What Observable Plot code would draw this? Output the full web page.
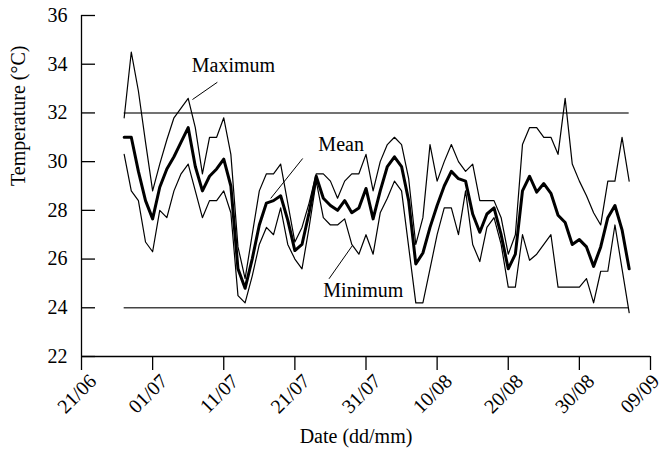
<!DOCTYPE html>
<html>
<head>
<meta charset="utf-8">
<script src="https://cdn.jsdelivr.net/npm/d3@7"></script>
<script src="https://cdn.jsdelivr.net/npm/@observablehq/plot@0.6"></script>
<style>
  html, body { margin: 0; padding: 0; background: #fff; }
  #chart { width: 664px; height: 457px; }
  #chart svg, #chart svg text { font-family: "Liberation Serif", "Times New Roman", serif !important; }
</style>
</head>
<body>
<div id="chart"></div>
<script>
// Daily series, 27/06 to 06/09
const firstDay = "2000-06-27";
const lastDay = "2000-09-06";
const maxTemp = [
  31.8, 34.5, 32.9, 30.8, 28.8, 29.9, 30.9, 31.8, 32.2, 32.6,
  31.4, 29.5, 31.0, 31.0, 31.8, 30.3, 26.5, 25.2, 27.0, 28.8,
  29.5, 29.5, 29.9, 28.3, 26.7, 27.3, 28.3, 29.5, 29.5, 29.2,
  28.5, 29.2, 29.5, 29.5, 30.3, 28.8, 30.0, 30.7, 31.0, 30.7,
  29.3, 26.6, 27.7, 30.7, 29.2, 30.0, 30.7, 30.0, 29.6, 29.9,
  28.4, 28.4, 28.4, 27.7, 26.2, 27.0, 30.7, 31.4, 31.4, 31.0,
  31.0, 30.3, 32.6, 29.9, 29.2, 28.6, 27.9, 27.4, 29.2, 29.2,
  31.0, 29.2
];
const meanTemp = [
  31.0, 31.0, 29.6, 28.4, 27.65, 28.95, 29.7, 30.2, 30.8, 31.4,
  29.8, 28.8, 29.4, 29.7, 30.1, 29.0, 25.6, 24.8, 26.0, 27.4,
  28.3, 28.4, 28.6, 27.6, 26.35, 26.6, 27.9, 29.4, 28.5, 28.2,
  28.0, 28.4, 27.9, 28.1, 28.9, 27.65, 28.8, 29.8, 30.2, 29.8,
  28.4, 25.8, 26.25, 27.3, 28.2, 29.0, 29.6, 29.3, 29.2, 27.85,
  27.1, 27.85, 28.1, 27.0, 25.6, 26.2, 28.8, 29.4, 28.75, 29.1,
  28.7, 27.8, 27.5, 26.6, 26.8, 26.5, 25.7, 26.5, 27.7, 28.2,
  27.2, 25.6
];
const minTemp = [
  30.3, 28.8, 28.4, 26.7, 26.3, 28.0, 27.7, 28.8, 29.5, 29.9,
  28.8, 27.7, 28.4, 28.4, 28.8, 27.9, 24.5, 24.2, 25.3, 26.6,
  27.3, 27.0, 28.1, 26.6, 26.0, 25.6, 27.3, 29.2, 27.7, 27.4,
  27.4, 27.65, 26.6, 26.2, 27.0, 26.2, 27.9, 28.5, 29.2, 28.8,
  26.5, 24.2, 24.2, 25.6, 27.0, 28.1, 28.1, 27.0, 28.8, 26.6,
  25.9, 27.3, 27.7, 26.6, 24.85, 24.85, 27.0, 25.95, 26.2, 26.6,
  27.0, 24.85, 24.85, 24.85, 24.85, 25.2, 24.2, 25.5, 25.5, 27.4,
  25.6, 23.8
];
const thresholds = [32, 24];
const xTickLabels = ["21/06","01/07","11/07","21/07","31/07","10/08","20/08","30/08","09/09"];
const yTicks = [22, 24, 26, 28, 30, 32, 34, 36];
const xTitle = "Date (dd/mm)";
const yTitle = "Temperature (°C)";
// annotation: label anchor (day offset from 21/06, temp) and leader line
const labelNames = ["Maximum", "Mean", "Minimum"];
const labelDay = [15.5, 33.3, 34.0];
const labelTemp = [33.95, 30.70, 24.69];
const leaderDay1 = [19.1, 31.1, 38.1];
const leaderTemp1 = [33.26, 30.13, 26.56];
const leaderDay2 = [15.6, 26.6, 34.8];
const leaderTemp2 = [32.55, 28.49, 25.19];

const parse = d3.utcParse("%Y-%m-%d");
const origin = parse("2000-06-21");
const dayAt = (d) => new Date(+origin + d * 864e5);
const dates = d3.utcDays(parse(firstDay), d3.utcDay.offset(parse(lastDay), 1));
const rows = dates.map((date, i) => ({date, max: maxTemp[i], mean: meanTemp[i], min: minTemp[i]}));
const xTicks = xTickLabels.map((s) => {
  const [dd, mm] = s.split("/").map(Number);
  return new Date(Date.UTC(2000, mm - 1, dd));
});
const notes = labelNames.map((name, i) => ({
  name,
  x: dayAt(labelDay[i]), y: labelTemp[i],
  x1: dayAt(leaderDay1[i]), y1: leaderTemp1[i],
  x2: dayAt(leaderDay2[i]), y2: leaderTemp2[i]
}));

const font = "Liberation Serif, Times New Roman, serif";
const tickText = {frameAnchor: "bottom", dy: 42, rotate: -45, textAnchor: "middle", fontSize: 20, fill: "#000"};
const chart = Plot.plot({
  width: 664,
  height: 457,
  marginLeft: 81,
  marginRight: 14,
  marginTop: 15,
  marginBottom: 101,
  style: {fontFamily: font, fontSize: "20px", background: "#fff", color: "#000"},
  x: {type: "utc", domain: [xTicks[0], xTicks[xTicks.length - 1]]},
  y: {domain: [22, 36]},
  marks: [
    Plot.ruleY(thresholds, {x1: dates[0], x2: dates[dates.length - 1], stroke: "#444", strokeWidth: 1.5}),
    Plot.line(rows, {x: "date", y: "max", stroke: "#000", strokeWidth: 1.2}),
    Plot.line(rows, {x: "date", y: "min", stroke: "#000", strokeWidth: 1.2}),
    Plot.line(rows, {x: "date", y: "mean", stroke: "#000", strokeWidth: 3}),
    Plot.link(notes, {x1: "x1", y1: "y1", x2: "x2", y2: "y2", stroke: "#000", strokeWidth: 1}),
    Plot.text(notes, {x: "x", y: "y", text: "name", textAnchor: "start", fontSize: 20, fill: "#000"}),
    // axes
    Plot.ruleX([xTicks[0]], {stroke: "#000", strokeWidth: 1.3}),
    Plot.ruleY([22], {stroke: "#000", strokeWidth: 1.3}),
    Plot.tickY(yTicks, {y: (d) => d, frameAnchor: "left", insetRight: 569 - 14, stroke: "#000", strokeWidth: 1.3}),
    Plot.axisY(yTicks, {tickSize: 0, tickPadding: 14, fontSize: 20, label: null}),
    Plot.axisX(xTicks, {tickSize: 14, tickFormat: () => "", label: null, strokeWidth: 1.3}),
    Plot.text(xTicks.slice(0, -1), {x: (d) => d, text: (d, i) => xTickLabels[i], ...tickText}),
    Plot.text(xTicks.slice(-1), {x: (d) => d, text: () => xTickLabels[xTickLabels.length - 1], ...tickText, dx: -6}),
    Plot.text([xTitle], {frameAnchor: "bottom", dy: 86, dx: -10, text: (d) => d, fontSize: 20, fill: "#000"}),
    Plot.text([yTitle], {frameAnchor: "left", dx: -63, rotate: -90, text: (d) => d, fontSize: 20, fill: "#000"})
  ]
});
d3.select(chart).selectAll("text").attr("font-family", font);
document.getElementById("chart").appendChild(chart);
</script>
</body>
</html>
